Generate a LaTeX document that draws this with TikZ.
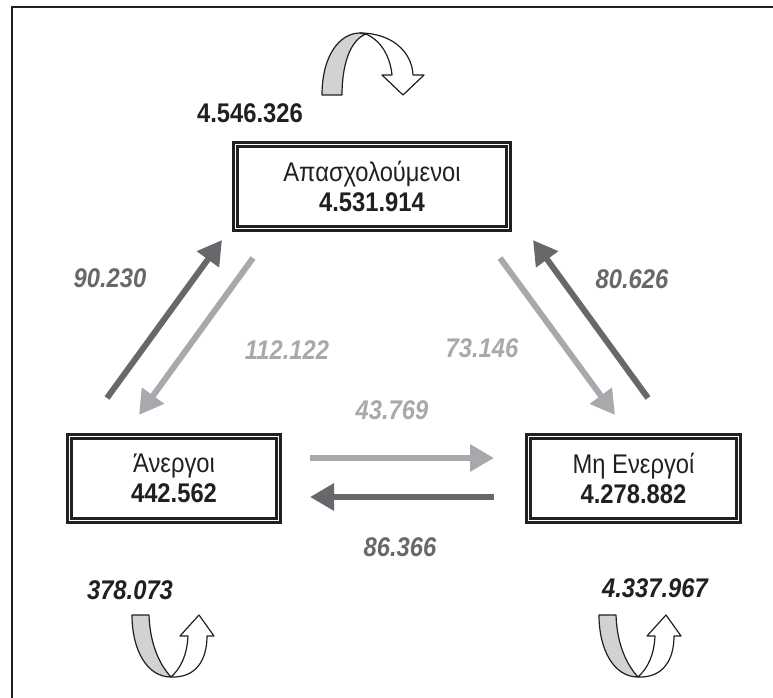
\documentclass[tikz,border=0pt]{standalone}
\usepackage{fontspec}
\setmainfont{Liberation Sans}[FakeStretch=0.88]
\usepackage{tikz}
\usetikzlibrary{arrows.meta}
\definecolor{FlowDark}{RGB}{104,104,108}
\definecolor{FlowLight}{RGB}{167,169,172}
\definecolor{Ink}{RGB}{35,31,32}
\definecolor{Ribbon}{RGB}{208,210,211}

\begin{document}
\begin{tikzpicture}[x=1pt, y=-1pt,
      box/.style={draw=Ink, line width=2.2pt, double=white, double distance=1.8pt,
                  minimum height=84pt, align=center, inner sep=0pt,
                  font=\fontsize{27}{30}\selectfont, text=Ink},
      num/.style={font=\fontsize{27}{30}\selectfont\bfseries, text=Ink},
      numit/.style={font=\fontsize{27}{30}\selectfont\bfseries\itshape, text=Ink},
      flowD/.style={font=\fontsize{27}{30}\selectfont\bfseries\itshape, text=FlowDark},
      flowL/.style={font=\fontsize{27}{30}\selectfont\bfseries\itshape, text=FlowLight},
      darr/.style={-{Triangle[length=24pt, width=26pt]}, draw=FlowDark, line width=6pt},
      larr/.style={-{Triangle[length=24pt, width=26pt]}, draw=FlowLight, line width=6pt},
      rib/.style={draw=Ink, line width=1.2pt, line join=round}
    ]
    \useasboundingbox (0,0) rectangle (773,698);
    \draw[Ink, line width=2.5pt] (12,698) -- (12,7) -- (773,7);

    % states
    \node[box, minimum width=273pt] (emp) at (372,186.5)
          {Απασχολούμενοι\\\textbf{4.531.914}};
    \node[box, minimum width=209pt] (une) at (174,478.5)
          {Άνεργοι\\\textbf{442.562}};
    \node[box, minimum width=210pt] (ina) at (633.5,478.5)
          {Μη Ενεργοί\\\textbf{4.278.882}};

    % stayers
    \node[num]   (stayE) at (250,113) {4.546.326};
    \node[numit] (stayU) at (130,590) {378.073};
    \node[numit] (stayI) at (655,588) {4.337.967};

    % flows
    \coordinate (u1s) at (107,398);  \coordinate (u1e) at (222,240);
    \coordinate (e1s) at (253,258);  \coordinate (e1e) at (139,415);
    \coordinate (e2s) at (500,258);  \coordinate (e2e) at (615,415);
    \coordinate (i1s) at (648,398);  \coordinate (i1e) at (533,240);
    \coordinate (h1s) at (310,458);  \coordinate (h1e) at (494,458);
    \coordinate (h2s) at (494,497);  \coordinate (h2e) at (310,497);

    \draw[darr] (u1s) -- (u1e);
    \draw[larr] (e1s) -- (e1e);
    \draw[larr] (e2s) -- (e2e);
    \draw[darr] (i1s) -- (i1e);
    \draw[larr] (h1s) -- (h1e);
    \draw[darr] (h2s) -- (h2e);

    \node[flowD] (fUE) at (110,278) {90.230};
    \node[flowL] (fEU) at (287,350) {112.122};
    \node[flowL] (fEI) at (482,348) {73.146};
    \node[flowD] (fIE) at (632,279) {80.626};
    \node[flowL] (fUI) at (392,410) {43.769};
    \node[flowD] (fIU) at (400,547) {86.366};

    % turning ribbons
    \filldraw[rib, fill=Ribbon] (322,95) .. controls (322,55) and (340,33) .. (360,33)
          -- (366,34) .. controls (350,40) and (342,65) .. (342,95) -- cycle;
    \filldraw[rib, fill=white] (360,33) .. controls (392,33) and (412,52) .. (413,75)
          -- (424,75) -- (403,95) -- (382,75) -- (392,75)
          .. controls (390,55) and (380,40) .. (366,34) -- cycle;

    \foreach \sx in {0,467}{
      \begin{scope}[xshift=\sx]
        \filldraw[rib, fill=Ribbon] (132,615) -- (149,615)
              .. controls (150,645) and (160,665) .. (171,677)
              .. controls (147,677) and (132,650) .. (132,615) -- cycle;
        \filldraw[rib, fill=white] (171,677) .. controls (196,678) and (207,660) .. (207,636)
              -- (214,636) -- (199,615) -- (180,636) -- (188,636)
              .. controls (187,655) and (181,668) .. (171,677) -- cycle;
      \end{scope}
    }
  \end{tikzpicture}
\end{document}
